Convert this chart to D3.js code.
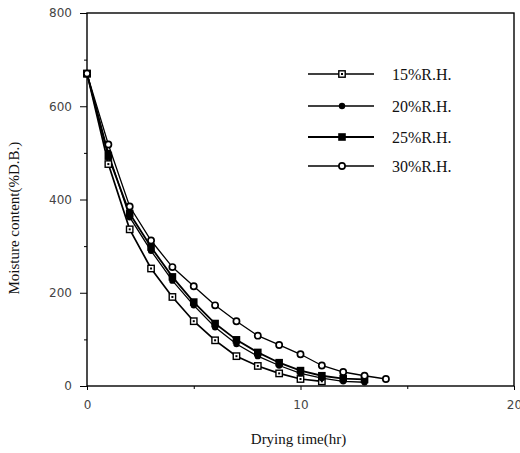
<!DOCTYPE html>
<html>
<head>
<meta charset="utf-8">
<script src="https://cdn.jsdelivr.net/npm/d3@7"></script>
<style>
  body { margin: 0; background: #fff; }
  svg { display: block; }
  .tick-label { font-family: "DejaVu Sans", Arial, sans-serif; font-size: 12px; fill: #444; }
  .axis-label, .legend-label { font-family: "Liberation Serif", "Times New Roman", serif; fill: #111; }
</style>
</head>
<body>
<div id="chart"></div>
<script>
// hours of drying, one reading per hour
const hours = d3.range(0, 15);
const seriesNames = ["15%R.H.", "20%R.H.", "25%R.H.", "30%R.H."];
const rh15 = [670, 476, 336, 252, 191, 139, 98, 64, 43, 27, 15, 10];
const rh20 = [670, 500, 362, 290, 226, 173, 126, 90, 64, 44, 27, 17, 10, 8];
const rh25 = [670, 493, 370, 298, 234, 180, 134, 99, 72, 50, 33, 22, 16, 14];
const rh30 = [670, 518, 385, 312, 255, 214, 173, 139, 108, 88, 68, 44, 30, 22, 15];
const xTicks = [0, 10, 20];
const yTicks = [0, 200, 400, 600, 800];

const margin = { top: 13, right: 6, bottom: 67, left: 87 };
const width = 520 - margin.left - margin.right;
const height = 453 - margin.top - margin.bottom;

const svg = d3.select("#chart")
    .append("svg")
    .attr("width", 520)
    .attr("height", 453)
    .append("g")
    .attr("transform", `translate(${margin.left},${margin.top})`);

const x = d3.scaleLinear().domain([0, 20]).range([0, width]);
const y = d3.scaleLinear().domain([0, 800]).range([height, 0]);

// frame
svg.append("rect")
    .attr("width", width)
    .attr("height", height)
    .attr("fill", "none")
    .attr("stroke", "#000")
    .attr("stroke-width", 1.4);

// y axis: major ticks with labels, minor ticks at 100s
const yAxis = svg.append("g")
    .call(d3.axisLeft(y).tickValues(yTicks).tickSize(7).tickFormat(d3.format("d")));
yAxis.select(".domain").remove();
yAxis.selectAll("text").attr("class", "tick-label").attr("x", -15).attr("font-size", null).attr("font-family", null);
svg.append("g")
    .call(d3.axisLeft(y).tickValues([100, 300, 500, 700]).tickSize(3).tickFormat(""))
    .select(".domain").remove();

const xAxis = svg.append("g")
    .attr("transform", `translate(0,${height})`)
    .call(d3.axisBottom(x).tickValues(xTicks).tickSize(4).tickFormat(d3.format("d")));
xAxis.select(".domain").remove();
xAxis.selectAll("text").attr("class", "tick-label").attr("y", 14).attr("font-size", null).attr("font-family", null);
svg.append("g")
    .attr("transform", `translate(0,${height})`)
    .call(d3.axisBottom(x).tickValues([5, 15]).tickSize(3).tickFormat(""))
    .select(".domain").remove();

svg.selectAll(".tick line").attr("stroke", "#000");

// axis labels
svg.append("text")
    .attr("class", "axis-label")
    .attr("x", x(10) - 2)
    .attr("y", height + 58)
    .attr("text-anchor", "middle")
    .attr("font-size", 15)
    .text("Drying time(hr)");

svg.append("text")
    .attr("class", "axis-label")
    .attr("transform", `translate(${-68},${y(360)}) rotate(-90)`)
    .attr("text-anchor", "middle")
    .attr("font-size", 15)
    .text("Moisture content(%D.B.)");

// series
const series = [
    { name: seriesNames[0], values: rh15, width: 1.7, marker: "openSquare" },
    { name: seriesNames[1], values: rh20, width: 1.3, marker: "dot" },
    { name: seriesNames[2], values: rh25, width: 1.8, marker: "filledSquare" },
    { name: seriesNames[3], values: rh30, width: 1.3, marker: "openCircle" }
];

const line = d3.line()
    .x((d, i) => x(hours[i]))
    .y(d => y(d));

function drawMarker(g, type) {
    if (type === "openSquare") {
        g.append("rect").attr("x", -3.2).attr("y", -3.2).attr("width", 6.4).attr("height", 6.4)
            .attr("fill", "#fff").attr("stroke", "#000").attr("stroke-width", 1.4);
        g.append("rect").attr("x", -1).attr("y", -1).attr("width", 2).attr("height", 2).attr("fill", "#000");
    } else if (type === "dot") {
        g.append("circle").attr("r", 3.2).attr("fill", "#000");
    } else if (type === "filledSquare") {
        g.append("rect").attr("x", -3.8).attr("y", -3.8).attr("width", 7.6).attr("height", 7.6).attr("fill", "#000");
    } else {
        g.append("circle").attr("r", 3.1).attr("fill", "#fff").attr("stroke", "#000").attr("stroke-width", 1.7);
    }
}

series.forEach(s => {
    svg.append("path")
        .datum(s.values)
        .attr("fill", "none")
        .attr("stroke", "#000")
        .attr("stroke-width", s.width)
        .attr("d", line);
});

series.forEach(s => {
    s.values.forEach((v, i) => {
        const g = svg.append("g").attr("transform", `translate(${x(hours[i])},${y(v)})`);
        drawMarker(g, s.marker);
    });
});

// legend
const legendRows = [74, 106, 137, 166];
const legend = svg.append("g").attr("transform", `translate(${-margin.left},${-margin.top})`);
series.forEach((s, i) => {
    const row = legend.append("g").attr("transform", `translate(0,${legendRows[i]})`);
    row.append("line")
        .attr("x1", 308).attr("x2", 374)
        .attr("stroke", "#000")
        .attr("stroke-width", s.width);
    drawMarker(row.append("g").attr("transform", "translate(342,0)"), s.marker);
    row.append("text")
        .attr("class", "legend-label")
        .attr("x", 392)
        .attr("dy", "0.35em")
        .attr("font-size", 16)
        .text(s.name);
});
</script>
</body>
</html>
